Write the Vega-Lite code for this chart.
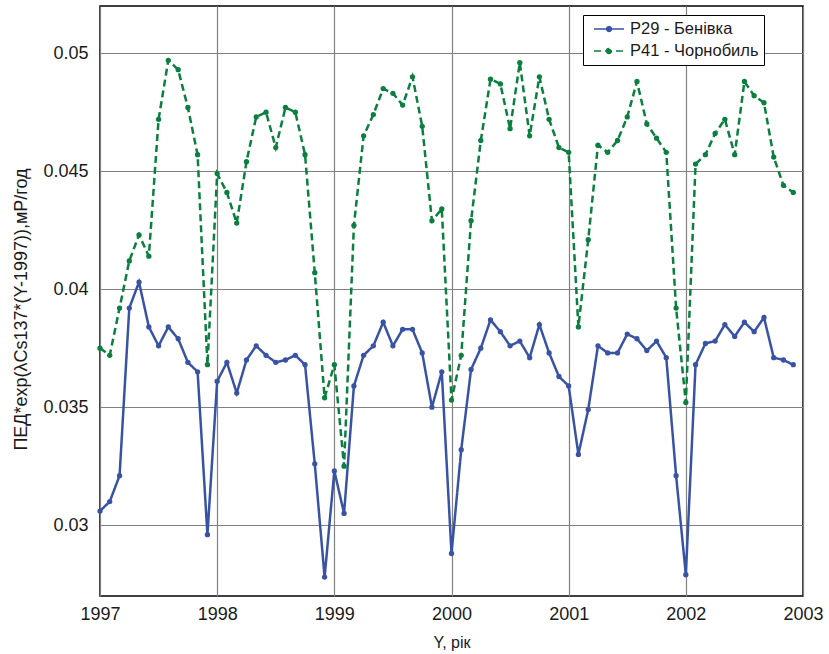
{
  "$schema": "https://vega.github.io/schema/vega-lite/v6.json",
  "width": 703,
  "height": 590,
  "autosize": "none",
  "padding": {"left": 100, "top": 6, "right": 26, "bottom": 58},
  "background": "white",
  "config": {
    "font": "Liberation Sans",
    "view": {"stroke": "black", "strokeWidth": 1.5},
    "legend": {
      "orient": "none",
      "legendX": 483,
      "legendY": 9,
      "strokeColor": "black",
      "fillColor": "white",
      "padding": 5,
      "labelFontSize": 16.5,
      "labelColor": "#1a1a1a",
      "labelOffset": 12,
      "rowPadding": 4,
      "symbolType": "M-1.875,0H1.875M-0.3,0a0.3,0.3 0 1,0 0.6,0a0.3,0.3 0 1,0 -0.6,0",
      "symbolSize": 256,
      "symbolOffset": 12,
      "symbolStrokeWidth": 1.5
    }
  },
  "data": {
    "values": [
      {"t": 1997.000, "P29 - Бенівка": 0.0306, "P41 - Чорнобиль": 0.0375},
      {"t": 1997.083, "P29 - Бенівка": 0.0310, "P41 - Чорнобиль": 0.0372},
      {"t": 1997.167, "P29 - Бенівка": 0.0321, "P41 - Чорнобиль": 0.0392},
      {"t": 1997.250, "P29 - Бенівка": 0.0392, "P41 - Чорнобиль": 0.0412},
      {"t": 1997.333, "P29 - Бенівка": 0.0403, "P41 - Чорнобиль": 0.0423},
      {"t": 1997.417, "P29 - Бенівка": 0.0384, "P41 - Чорнобиль": 0.0414},
      {"t": 1997.500, "P29 - Бенівка": 0.0376, "P41 - Чорнобиль": 0.0472},
      {"t": 1997.583, "P29 - Бенівка": 0.0384, "P41 - Чорнобиль": 0.0497},
      {"t": 1997.667, "P29 - Бенівка": 0.0379, "P41 - Чорнобиль": 0.0493},
      {"t": 1997.750, "P29 - Бенівка": 0.0369, "P41 - Чорнобиль": 0.0477},
      {"t": 1997.833, "P29 - Бенівка": 0.0365, "P41 - Чорнобиль": 0.0457},
      {"t": 1997.917, "P29 - Бенівка": 0.0296, "P41 - Чорнобиль": 0.0368},
      {"t": 1998.000, "P29 - Бенівка": 0.0361, "P41 - Чорнобиль": 0.0449},
      {"t": 1998.083, "P29 - Бенівка": 0.0369, "P41 - Чорнобиль": 0.0441},
      {"t": 1998.167, "P29 - Бенівка": 0.0356, "P41 - Чорнобиль": 0.0428},
      {"t": 1998.250, "P29 - Бенівка": 0.0370, "P41 - Чорнобиль": 0.0454},
      {"t": 1998.333, "P29 - Бенівка": 0.0376, "P41 - Чорнобиль": 0.0473},
      {"t": 1998.417, "P29 - Бенівка": 0.0372, "P41 - Чорнобиль": 0.0475},
      {"t": 1998.500, "P29 - Бенівка": 0.0369, "P41 - Чорнобиль": 0.0460},
      {"t": 1998.583, "P29 - Бенівка": 0.0370, "P41 - Чорнобиль": 0.0477},
      {"t": 1998.667, "P29 - Бенівка": 0.0372, "P41 - Чорнобиль": 0.0475},
      {"t": 1998.750, "P29 - Бенівка": 0.0368, "P41 - Чорнобиль": 0.0457},
      {"t": 1998.833, "P29 - Бенівка": 0.0326, "P41 - Чорнобиль": 0.0407},
      {"t": 1998.917, "P29 - Бенівка": 0.0278, "P41 - Чорнобиль": 0.0354},
      {"t": 1999.000, "P29 - Бенівка": 0.0323, "P41 - Чорнобиль": 0.0368},
      {"t": 1999.083, "P29 - Бенівка": 0.0305, "P41 - Чорнобиль": 0.0325},
      {"t": 1999.167, "P29 - Бенівка": 0.0359, "P41 - Чорнобиль": 0.0427},
      {"t": 1999.250, "P29 - Бенівка": 0.0372, "P41 - Чорнобиль": 0.0465},
      {"t": 1999.333, "P29 - Бенівка": 0.0376, "P41 - Чорнобиль": 0.0474},
      {"t": 1999.417, "P29 - Бенівка": 0.0386, "P41 - Чорнобиль": 0.0485},
      {"t": 1999.500, "P29 - Бенівка": 0.0376, "P41 - Чорнобиль": 0.0483},
      {"t": 1999.583, "P29 - Бенівка": 0.0383, "P41 - Чорнобиль": 0.0478},
      {"t": 1999.667, "P29 - Бенівка": 0.0383, "P41 - Чорнобиль": 0.0490},
      {"t": 1999.750, "P29 - Бенівка": 0.0373, "P41 - Чорнобиль": 0.0469},
      {"t": 1999.833, "P29 - Бенівка": 0.0350, "P41 - Чорнобиль": 0.0429},
      {"t": 1999.917, "P29 - Бенівка": 0.0365, "P41 - Чорнобиль": 0.0434},
      {"t": 2000.000, "P29 - Бенівка": 0.0288, "P41 - Чорнобиль": 0.0353},
      {"t": 2000.083, "P29 - Бенівка": 0.0332, "P41 - Чорнобиль": 0.0372},
      {"t": 2000.167, "P29 - Бенівка": 0.0366, "P41 - Чорнобиль": 0.0429},
      {"t": 2000.250, "P29 - Бенівка": 0.0375, "P41 - Чорнобиль": 0.0463},
      {"t": 2000.333, "P29 - Бенівка": 0.0387, "P41 - Чорнобиль": 0.0489},
      {"t": 2000.417, "P29 - Бенівка": 0.0382, "P41 - Чорнобиль": 0.0487},
      {"t": 2000.500, "P29 - Бенівка": 0.0376, "P41 - Чорнобиль": 0.0468},
      {"t": 2000.583, "P29 - Бенівка": 0.0378, "P41 - Чорнобиль": 0.0496},
      {"t": 2000.667, "P29 - Бенівка": 0.0371, "P41 - Чорнобиль": 0.0465},
      {"t": 2000.750, "P29 - Бенівка": 0.0385, "P41 - Чорнобиль": 0.0490},
      {"t": 2000.833, "P29 - Бенівка": 0.0373, "P41 - Чорнобиль": 0.0472},
      {"t": 2000.917, "P29 - Бенівка": 0.0363, "P41 - Чорнобиль": 0.0460},
      {"t": 2001.000, "P29 - Бенівка": 0.0359, "P41 - Чорнобиль": 0.0458},
      {"t": 2001.083, "P29 - Бенівка": 0.0330, "P41 - Чорнобиль": 0.0384},
      {"t": 2001.167, "P29 - Бенівка": 0.0349, "P41 - Чорнобиль": 0.0421},
      {"t": 2001.250, "P29 - Бенівка": 0.0376, "P41 - Чорнобиль": 0.0461},
      {"t": 2001.333, "P29 - Бенівка": 0.0373, "P41 - Чорнобиль": 0.0458},
      {"t": 2001.417, "P29 - Бенівка": 0.0373, "P41 - Чорнобиль": 0.0463},
      {"t": 2001.500, "P29 - Бенівка": 0.0381, "P41 - Чорнобиль": 0.0473},
      {"t": 2001.583, "P29 - Бенівка": 0.0379, "P41 - Чорнобиль": 0.0488},
      {"t": 2001.667, "P29 - Бенівка": 0.0374, "P41 - Чорнобиль": 0.0470},
      {"t": 2001.750, "P29 - Бенівка": 0.0378, "P41 - Чорнобиль": 0.0464},
      {"t": 2001.833, "P29 - Бенівка": 0.0371, "P41 - Чорнобиль": 0.0458},
      {"t": 2001.917, "P29 - Бенівка": 0.0321, "P41 - Чорнобиль": 0.0392},
      {"t": 2002.000, "P29 - Бенівка": 0.0279, "P41 - Чорнобиль": 0.0352},
      {"t": 2002.083, "P29 - Бенівка": 0.0368, "P41 - Чорнобиль": 0.0453},
      {"t": 2002.167, "P29 - Бенівка": 0.0377, "P41 - Чорнобиль": 0.0457},
      {"t": 2002.250, "P29 - Бенівка": 0.0378, "P41 - Чорнобиль": 0.0466},
      {"t": 2002.333, "P29 - Бенівка": 0.0385, "P41 - Чорнобиль": 0.0472},
      {"t": 2002.417, "P29 - Бенівка": 0.0380, "P41 - Чорнобиль": 0.0457},
      {"t": 2002.500, "P29 - Бенівка": 0.0386, "P41 - Чорнобиль": 0.0488},
      {"t": 2002.583, "P29 - Бенівка": 0.0382, "P41 - Чорнобиль": 0.0482},
      {"t": 2002.667, "P29 - Бенівка": 0.0388, "P41 - Чорнобиль": 0.0479},
      {"t": 2002.750, "P29 - Бенівка": 0.0371, "P41 - Чорнобиль": 0.0456},
      {"t": 2002.833, "P29 - Бенівка": 0.0370, "P41 - Чорнобиль": 0.0444},
      {"t": 2002.917, "P29 - Бенівка": 0.0368, "P41 - Чорнобиль": 0.0441}
    ]
  },
  "transform": [
    {"fold": ["P29 - Бенівка", "P41 - Чорнобиль"], "as": ["series", "v"]}
  ],
  "encoding": {
    "x": {
      "field": "t",
      "type": "quantitative",
      "scale": {"domain": [1997, 2003], "nice": false, "zero": false},
      "axis": {
        "values": [1997, 1998, 1999, 2000, 2001, 2002, 2003],
        "format": "d",
        "title": "Y, рік",
        "grid": true,
        "gridColor": "#808080",
        "gridWidth": 1.2,
        "ticks": false,
        "domain": false,
        "labelFlush": false,
        "labelFontSize": 18,
        "labelPadding": 9,
        "labelColor": "#1a1a1a",
        "titleFontSize": 16,
        "titleFontWeight": "normal",
        "titleColor": "#1a1a1a",
        "titleBaseline": "top",
        "titleY": 38
      }
    },
    "y": {
      "field": "v",
      "type": "quantitative",
      "scale": {"domain": [0.027, 0.052], "nice": false, "zero": false},
      "axis": {
        "values": [0.03, 0.035, 0.04, 0.045, 0.05],
        "format": "~f",
        "title": "ПЕД*exp(λCs137*(Y-1997)),мР/год",
        "grid": true,
        "gridColor": "#808080",
        "gridWidth": 1.2,
        "ticks": false,
        "domain": false,
        "labelFlush": false,
        "labelFontSize": 18,
        "labelPadding": 12,
        "labelColor": "#1a1a1a",
        "titleFontSize": 18,
        "titleFontWeight": "normal",
        "titleColor": "#1a1a1a",
        "titleBaseline": "middle",
        "titleX": -79,
        "titleY": 303
      }
    },
    "color": {
      "field": "series",
      "type": "nominal",
      "scale": {"domain": ["P29 - Бенівка", "P41 - Чорнобиль"], "range": ["#3953a4", "#0a7f3f"]},
      "legend": {"title": null, "labelExpr": "datum.label + '\u00a0\u00a0\u00a0\u00a0\u00a0\u00a0'"}
    }
  },
  "layer": [
    {
      "mark": {"type": "line", "strokeWidth": 2.5},
      "encoding": {
        "strokeDash": {
          "field": "series",
          "type": "nominal",
          "scale": {"domain": ["P29 - Бенівка", "P41 - Чорнобиль"], "range": [[1, 0], [7, 4]]},
          "legend": {"title": null, "labelExpr": "datum.label + '\u00a0\u00a0\u00a0\u00a0\u00a0\u00a0'"}
        }
      }
    },
    {
      "mark": {"type": "point", "filled": true, "size": 28, "opacity": 1}
    }
  ]
}
